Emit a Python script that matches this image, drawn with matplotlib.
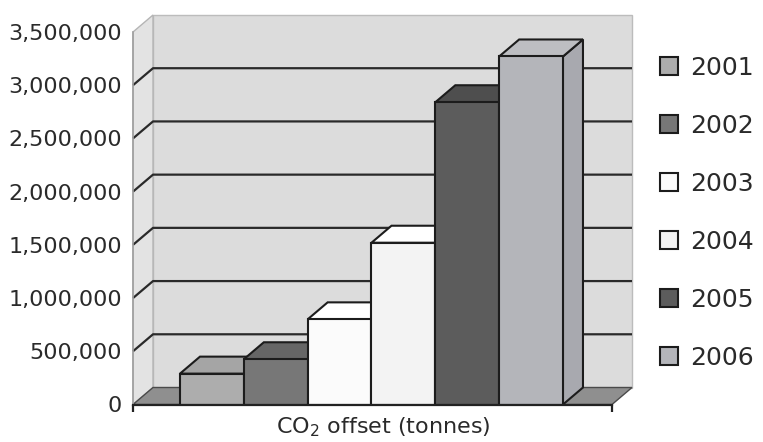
import matplotlib
matplotlib.use("Agg")
import matplotlib.pyplot as plt
from matplotlib.patches import Polygon
from matplotlib.ticker import FuncFormatter
import numpy as np

# Data
years = ["2001", "2002", "2003", "2004", "2005", "2006"]
offsets = [290000, 425000, 800000, 1520000, 2840000, 3270000]
yticks = [0, 500000, 1000000, 1500000, 2000000, 2500000, 3000000, 3500000]

# Styling
front_colors = ["#adadad", "#777777", "#fbfbfb", "#f3f3f3", "#5c5c5c", "#b4b5ba"]
top_colors = ["#a5a5a5", "#666666", "#ffffff", "#ffffff", "#4e4e4e", "#bdbec2"]
side_colors = ["#9a9a9a", "#5f5f5f", "#e9e9e9", "#e4e4e4", "#464646", "#a8a9af"]
edge = "#1c1c1c"
depth_px = (20, 17)  # oblique depth of the 3D effect, in pixels

fig = plt.figure(figsize=(7.63, 4.42), dpi=100)
ax = fig.add_axes([133 / 763, (442 - 404.5) / 442, 479 / 763, 372.5 / 442])
ax.set_facecolor("none")

xmin, xmax = -1.236, 6.268
ymax = 3500000
ax.set_xlim(xmin, xmax)
ax.set_ylim(0, ymax)

# depth offset converted to data units
p0 = ax.transData.transform((0, 0))
ddx, ddy = ax.transData.inverted().transform(p0 + np.array(depth_px))

def poly(pts, fc, ec="none", lw=0, z=1):
    p = Polygon(pts, closed=True, facecolor=fc, edgecolor=ec, linewidth=lw,
                zorder=z, clip_on=False, joinstyle="miter")
    ax.add_patch(p)
    return p

# back wall
poly([(xmin + ddx, ddy), (xmax + ddx, ddy), (xmax + ddx, ymax + ddy),
      (xmin + ddx, ymax + ddy)], "#dcdcdc", "#bcbcbc", 1.0, z=0.5)
# side wall
poly([(xmin, 0), (xmin + ddx, ddy), (xmin + ddx, ymax + ddy), (xmin, ymax)],
     "#e3e3e3", "#b5b5b5", 1.0, z=0.6)
# floor
poly([(xmin, 0), (xmax, 0), (xmax + ddx, ddy), (xmin + ddx, ddy)],
     "#8f8f8f", "#4a4a4a", 1.0, z=0.7)

# gridlines on back and side walls
for v in yticks[1:-1]:
    ax.plot([xmin, xmin + ddx, xmax + ddx], [v, v + ddy, v + ddy],
            color="#2a2a2a", lw=1.6, zorder=0.8, clip_on=False,
            solid_capstyle="butt")

# bars: front faces through ax.bar, top and side faces from the same values
x = np.arange(len(years))
bars = ax.bar(x, offsets, width=1.0, color=front_colors, edgecolor=edge,
              linewidth=1.5, zorder=2)
for i, (xi, v) in enumerate(zip(x, offsets)):
    z = 2 + i * 0.1
    x0, x1 = xi - 0.5, xi + 0.5
    poly([(x1, 0), (x1 + ddx, ddy), (x1 + ddx, v + ddy), (x1, v)],
         side_colors[i], edge, 1.5, z=z)
    poly([(x0, v), (x1, v), (x1 + ddx, v + ddy), (x0 + ddx, v + ddy)],
         top_colors[i], edge, 1.5, z=z)
    bars[i].set_zorder(z + 0.05)

# axes
for s in ["top", "right"]:
    ax.spines[s].set_visible(False)
ax.spines["left"].set_color("#a0a0a0")
ax.spines["left"].set_linewidth(1.2)
ax.spines["bottom"].set_color("#222222")
ax.spines["bottom"].set_linewidth(1.6)
ax.spines["bottom"].set_zorder(3)
ax.set_yticks(yticks)
ax.yaxis.set_major_formatter(FuncFormatter(lambda v, p: f"{int(v):,}"))
ax.tick_params(axis="y", length=0, pad=8, labelsize=16, labelcolor="#2a2a2a")
ax.set_xticks([xmin, xmax])
ax.set_xticklabels([])
ax.tick_params(axis="x", direction="out", length=5, width=1.6, color="#222222")

fig.text(383 / 763, 1 - 427 / 442, "CO$_2$ offset (tonnes)", ha="center",
         va="center", fontsize=16, color="#2a2a2a")

leg = ax.legend(bars, years, loc="upper left",
                bbox_to_anchor=(660 / 763, 1 - 56 / 442),
                bbox_transform=fig.transFigure, frameon=False, fontsize=18,
                handlelength=0.72, handleheight=0.72, handletextpad=0.5,
                labelspacing=1.36, borderpad=0, borderaxespad=0)
for t in leg.get_texts():
    t.set_color("#2a2a2a")

fig.savefig("out.png", dpi=100)
